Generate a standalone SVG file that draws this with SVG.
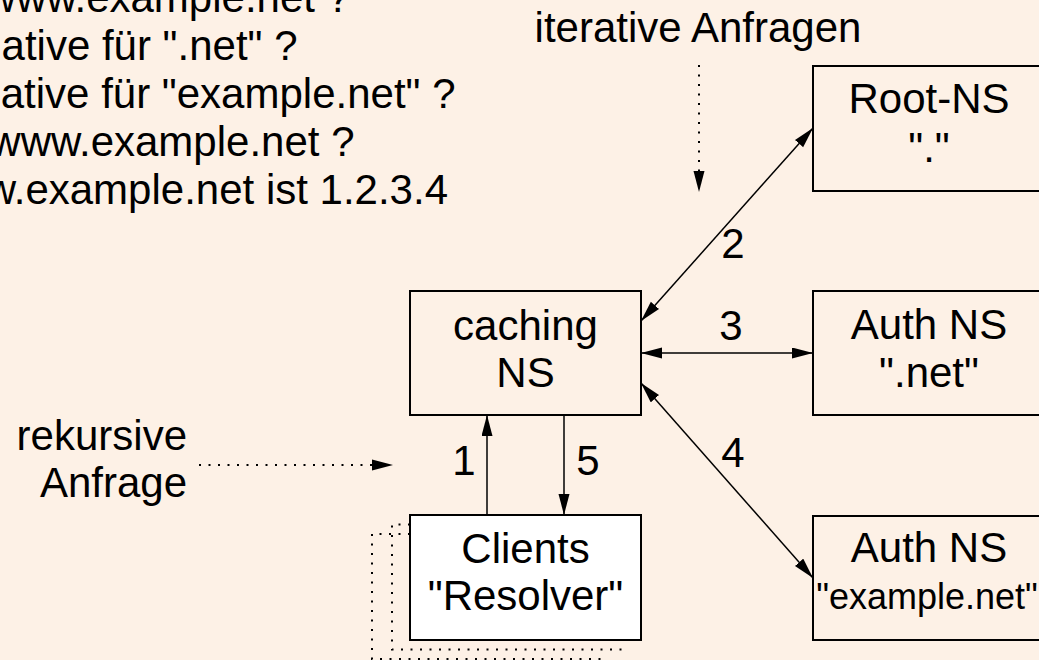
<svg xmlns="http://www.w3.org/2000/svg" width="1039" height="660" viewBox="0 0 1039 660">
<style>
text{font-family:"Liberation Sans",Arial,Helvetica,sans-serif;font-size:42px;fill:#000}
.c{text-anchor:middle}
.e{text-anchor:end}
.box{fill:none;stroke:#000;stroke-width:2}
.wbox{fill:#fff;stroke:#000;stroke-width:2}
.ln{stroke:#000;stroke-width:1.5;fill:none}
.dot{stroke:#000;stroke-width:2;fill:none;stroke-dasharray:2 7.5}
</style>
<defs>
<marker id="ah" markerUnits="userSpaceOnUse" markerWidth="23" markerHeight="13" refX="21" refY="5.5" orient="auto-start-reverse" viewBox="0 0 23 13">
<path d="M0,0 L21,5.5 L0,11 z" fill="#000"/>
</marker>
</defs>
<rect width="1039" height="660" fill="#fdf1e6"/>
<g id="legend">
<text class="e" x="350" y="12">www.example.net ?</text>
<text class="e" x="297.5" y="60">ative für ".net" ?</text>
<text class="e" x="455.5" y="108">ative für "example.net" ?</text>
<text class="e" x="354.5" y="156">www.example.net ?</text>
<text class="e" x="448" y="204">w.example.net ist 1.2.3.4</text>
</g>
<g id="label-iterative">
<text class="c" x="698" y="42">iterative Anfragen</text>
</g>
<g id="label-rekursive">
<text class="e" x="187" y="450">rekursive</text>
<text class="e" x="187" y="497">Anfrage</text>
</g>
<g id="root-ns">
<rect class="box" x="813" y="66" width="231" height="125"/>
<text class="c" x="929" y="113">Root-NS</text>
<text class="c" x="929" y="162">"."</text>
</g>
<g id="auth-net">
<rect class="box" x="813" y="291" width="231" height="124"/>
<text class="c" x="929" y="339">Auth NS</text>
<text class="c" x="929" y="387">".net"</text>
</g>
<g id="auth-example">
<rect class="box" x="813" y="516" width="231" height="124"/>
<text class="c" x="929" y="562">Auth NS</text>
<text class="c" x="927" y="609" style="font-size:36px">"example.net"</text>
</g>
<g id="caching-ns">
<rect class="box" x="410" y="291" width="231" height="124"/>
<text class="c" x="525.5" y="340">caching</text>
<text class="c" x="525.5" y="387">NS</text>
</g>
<g id="clients">
<polyline class="dot" points="410,534 372,534 372,659 604,659"/>
<polyline class="dot" points="410,524.5 392,524.5 392,649.5 624,649.5"/>
<rect class="wbox" x="410" y="515" width="231" height="125"/>
<text class="c" x="525.5" y="563">Clients</text>
<text class="c" x="525.5" y="610">"Resolver"</text>
</g>
<g id="connectors">
<line class="dot" x1="699" y1="65" x2="699" y2="172" />
<path d="M693.5,171 L704.5,171 L699,192 z" fill="#000"/>
<line class="dot" x1="199" y1="465" x2="372" y2="465" />
<path d="M372,459.5 L372,470.5 L393,465 z" fill="#000"/>
<line class="ln" x1="641" y1="321" x2="813" y2="128" marker-start="url(#ah)" marker-end="url(#ah)"/>
<line class="ln" x1="641" y1="353" x2="813" y2="353" marker-start="url(#ah)" marker-end="url(#ah)"/>
<line class="ln" x1="641" y1="383" x2="813" y2="578" marker-start="url(#ah)" marker-end="url(#ah)"/>
<line class="ln" x1="487" y1="515" x2="487" y2="415" marker-end="url(#ah)"/>
<line class="ln" x1="564" y1="415" x2="564" y2="515" marker-end="url(#ah)"/>
<text class="c" x="733" y="258">2</text>
<text class="c" x="731" y="340">3</text>
<text class="c" x="733" y="467">4</text>
<text class="c" x="464" y="475">1</text>
<text class="c" x="588" y="475">5</text>
</g>
</svg>
